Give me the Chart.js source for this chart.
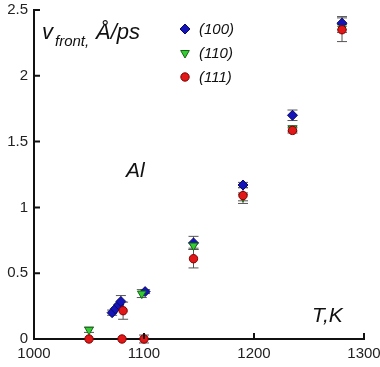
<!DOCTYPE html>
<html>
<head>
<meta charset="utf-8">
<script src="https://cdn.jsdelivr.net/npm/chart.js@4"></script>
<style>
  body { margin:0; background:#fff; }
  #wrap { position:relative; width:380px; height:367px; font-family:"Liberation Sans", Arial, sans-serif; color:#111; }
  #wrap canvas { position:absolute; left:0; top:0; }
  .lbl { position:absolute; font-style:italic; white-space:nowrap; line-height:1; }
</style>
</head>
<body>
<div id="wrap">
  <canvas id="c" width="380" height="367"></canvas>
  <div class="lbl" style="left:42px;top:21px;font-size:22px">v</div>
  <div class="lbl" style="left:55px;top:33px;font-size:15px">front,</div>
  <div class="lbl" style="left:96px;top:21px;font-size:22px">Å/ps</div>
  <div class="lbl" style="left:199px;top:21px;font-size:15px">(100)</div>
  <div class="lbl" style="left:199px;top:45px;font-size:15px">(110)</div>
  <div class="lbl" style="left:199px;top:69px;font-size:15px">(111)</div>
  <div class="lbl" style="left:126px;top:159px;font-size:21px">Al</div>
  <div class="lbl" style="left:312px;top:304px;font-size:21px">T,K</div>
</div>
<script>
// ── data: temperature (K) vs front velocity (Å/ps) ──
const T100 = [1071, 1074, 1077, 1079, 1101, 1145, 1190, 1235, 1280];
const V100 = [0.20, 0.23, 0.26, 0.285, 0.36, 0.73, 1.17, 1.70, 2.40];
const E100 = [0.02, 0, 0, 0.045, 0.015, 0.05, 0.02, 0.04, 0.05];

const T110 = [1050, 1098, 1145, 1190, 1235, 1280];
const V110 = [0.07, 0.345, 0.71, 1.08, 1.60, 2.36];
const E110 = [0.02, 0.03, 0.02, 0.03, 0.02, 0.03];

const T111 = [1050, 1080, 1100, 1081, 1145, 1190, 1235, 1280];
const V111 = [0, 0, 0, 0.215, 0.61, 1.09, 1.585, 2.35];
const E111 = [0, 0, 0.03, 0.065, 0.07, 0.06, 0.02, 0.09];

const X_TICKS = [1000, 1100, 1200, 1300];
const Y_TICKS = [0, 0.5, 1, 1.5, 2, 2.5];

const SERIES = [
  { name:'(100)', t:T100, v:V100, e:E100, style:'rectRot', rot:0,   r:5,   fill:'#1414b8', line:'#0a0a60', order:2 },
  { name:'(110)', t:T110, v:V110, e:E110, style:'triangle', rot:180, r:5,   fill:'#33cc33', line:'#116611', order:1 },
  { name:'(111)', t:T111, v:V111, e:E111, style:'circle',  rot:0,   r:4.2, fill:'#e01818', line:'#800000', order:0 }
];

const toPts = s => s.t.map((x,i) => ({ x, y:s.v[i], e:s.e[i] }));

// error bars, drawn under the markers
const errorBars = {
  id:'errorBars',
  beforeDatasetsDraw(chart) {
    const { ctx, scales:{x, y} } = chart;
    ctx.save();
    ctx.strokeStyle = '#555';
    ctx.lineWidth = 1;
    chart.data.datasets.forEach(ds => {
      ds.data.forEach(p => {
        if (!p.e) return;
        const px = x.getPixelForValue(p.x);
        const top = y.getPixelForValue(p.y + p.e), bot = y.getPixelForValue(p.y - p.e);
        ctx.beginPath();
        ctx.moveTo(px, top); ctx.lineTo(px, bot);
        ctx.moveTo(px-5, top); ctx.lineTo(px+5, top);
        ctx.moveTo(px-5, bot); ctx.lineTo(px+5, bot);
        ctx.stroke();
      });
    });
    ctx.restore();
  }
};

// inward tick marks + legend markers
const decor = {
  id:'decor',
  afterDraw(chart) {
    const { ctx, scales:{x, y}, chartArea:a } = chart;
    ctx.save();
    ctx.strokeStyle = '#111';
    ctx.lineWidth = 2;
    ctx.beginPath();
    X_TICKS.forEach(v => { const px = x.getPixelForValue(v); ctx.moveTo(px, a.bottom); ctx.lineTo(px, a.bottom-6); });
    Y_TICKS.forEach(v => { const py = y.getPixelForValue(v); ctx.moveTo(a.left, py); ctx.lineTo(a.left+6, py); });
    ctx.stroke();
    SERIES.forEach((s,i) => {
      ctx.fillStyle = s.fill; ctx.strokeStyle = s.line; ctx.lineWidth = 1;
      Chart.helpers.drawPoint(ctx, { pointStyle:s.style, radius:s.r, rotation:s.rot, borderWidth:1 }, 185, 29 + i*24);
    });
    ctx.restore();
  }
};

const tickFont = { family:'Liberation Sans', size:15 };

new Chart(document.getElementById('c'), {
  type:'scatter',
  data:{
    datasets: SERIES.map(s => ({
      label:s.name, data:toPts(s), order:s.order, clip:false,
      pointStyle:s.style, rotation:s.rot, pointRadius:s.r, pointHoverRadius:s.r,
      backgroundColor:s.fill, borderColor:s.line, borderWidth:1
    }))
  },
  options:{
    responsive:false, animation:false, events:[],
    layout:{ padding:{ top:10, right:16, left:0, bottom:0 } },
    plugins:{ legend:{ display:false }, tooltip:{ enabled:false } },
    scales:{
      x:{
        type:'linear', min:1000, max:1300,
        afterBuildTicks: sc => { sc.ticks = X_TICKS.map(value => ({ value })); },
        afterFit: sc => { sc.height = 28; sc.paddingLeft = 0; sc.paddingRight = 0; },
        grid:{ drawOnChartArea:false, drawTicks:false },
        border:{ display:true, color:'#111', width:2 },
        ticks:{ padding:6, color:'#222', font:tickFont, callback: v => String(v) }
      },
      y:{
        type:'linear', min:0, max:2.5,
        afterBuildTicks: sc => { sc.ticks = Y_TICKS.map(value => ({ value })); },
        afterFit: sc => { sc.width = 34; sc.paddingTop = 0; sc.paddingBottom = 0; },
        grid:{ drawOnChartArea:false, drawTicks:false },
        border:{ display:true, color:'#111', width:2 },
        ticks:{ padding:6, color:'#222', font:tickFont, callback: v => String(v) }
      }
    }
  },
  plugins:[errorBars, decor]
});
</script>
</body>
</html>
